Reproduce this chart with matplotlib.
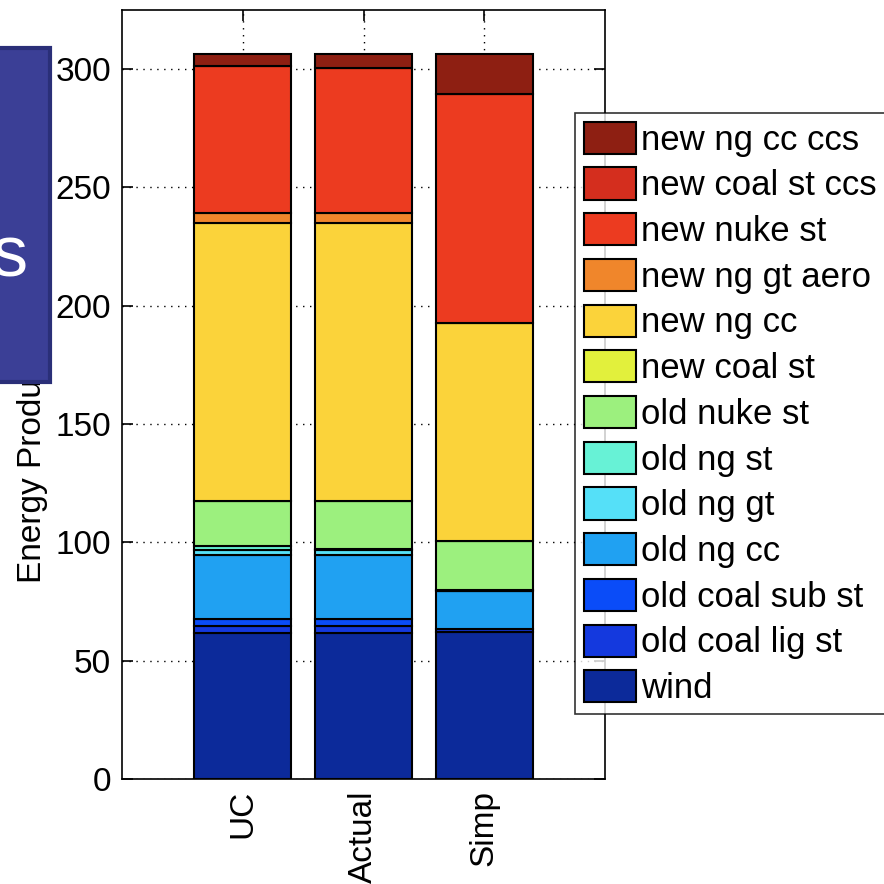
import numpy as np
import matplotlib
matplotlib.use('Agg')
import matplotlib.pyplot as plt
from matplotlib.patches import Rectangle

plt.rcParams['font.family'] = ['Liberation Sans', 'DejaVu Sans']

cases = ['UC', 'Actual', 'Simp']

# stacked from bottom to top
tech = ['wind', 'old coal lig st', 'old coal sub st', 'old ng cc', 'old ng gt',
        'old ng st', 'old nuke st', 'new coal st', 'new ng cc', 'new ng gt aero',
        'new nuke st', 'new coal st ccs', 'new ng cc ccs']
colors = ['#0c2a9a', '#1439de', '#0a4cf8', '#20a1f2', '#55e0f8',
          '#67f2d6', '#9cf07e', '#e2f03c', '#fbd33a', '#f0862b',
          '#ec3b20', '#d42e1e', '#8e1f12']

wind = [61.5, 61.5, 62.2]
old_coal_lig = [3.2, 3.2, 1.0]
old_coal_sub = [3.0, 3.0, 0.3]
old_ng_cc = [26.8, 26.8, 15.8]
old_ng_gt = [2.1, 2.1, 0.3]
old_ng_st = [1.7, 0.6, 0.3]
old_nuke = [19.4, 20.2, 20.5]
new_coal = [0.0, 0.0, 0.0]
new_ng_cc = [117.2, 117.5, 92.5]
new_ng_gt_aero = [4.2, 4.2, 0.0]
new_nuke = [62.2, 61.5, 96.8]
new_coal_ccs = [0.0, 0.0, 0.0]
new_ng_cc_ccs = [5.3, 6.0, 16.9]

data = [wind, old_coal_lig, old_coal_sub, old_ng_cc, old_ng_gt, old_ng_st,
        old_nuke, new_coal, new_ng_cc, new_ng_gt_aero, new_nuke,
        new_coal_ccs, new_ng_cc_ccs]

fig = plt.figure(figsize=(8.84, 8.84), dpi=100)
ax = fig.add_axes([122/884, 1-779/884, (605-122)/884, (779-10)/884])

x = np.arange(1, 4)
bottom = np.zeros(3)
handles = []
for i in range(len(tech)):
    h = ax.bar(x, data[i], 0.8, bottom=bottom, color=colors[i],
               edgecolor='black', linewidth=1.5, label=tech[i])
    handles.append(h)
    bottom = bottom + np.array(data[i])

ax.set_xlim(0, 4)
ax.set_ylim(0, 325)
ax.set_xticks(x)
ax.set_xticklabels(cases, rotation=90)
ax.set_yticks(np.arange(0, 301, 50))
ax.tick_params(direction='in', top=True, right=True, length=8, width=1.2,
               labelsize=24, pad=8)
ax.set_axisbelow(True)
ax.grid(True, linestyle=(0, (1, 4)), color='black', linewidth=1.0)
for s in ax.spines.values():
    s.set_linewidth(1.2)
ax.set_ylabel('Energy Production (TWh)', fontsize=24, labelpad=5)

leg = fig.legend(handles[::-1], tech[::-1], loc='upper left',
                 bbox_to_anchor=(575/884, 1-113/884), fontsize=25,
                 frameon=True, fancybox=False, edgecolor='black',
                 handlelength=1.5, handleheight=1.05, handletextpad=0.15,
                 labelspacing=0.31, borderpad=0.25, borderaxespad=0)
leg.get_frame().set_linewidth(1.2)

# slide box overlay on the left
fig.patches.append(Rectangle((-20/884, 1-382/884), 70/884, (382-48)/884,
                             transform=fig.transFigure, facecolor='#3b3f96',
                             edgecolor='#2a2f78', linewidth=3, zorder=10))
fig.text(27/884, 1-258/884, 's', color='white', fontsize=52,
         ha='right', va='center', zorder=11)

fig.savefig('out.png', dpi=100)
